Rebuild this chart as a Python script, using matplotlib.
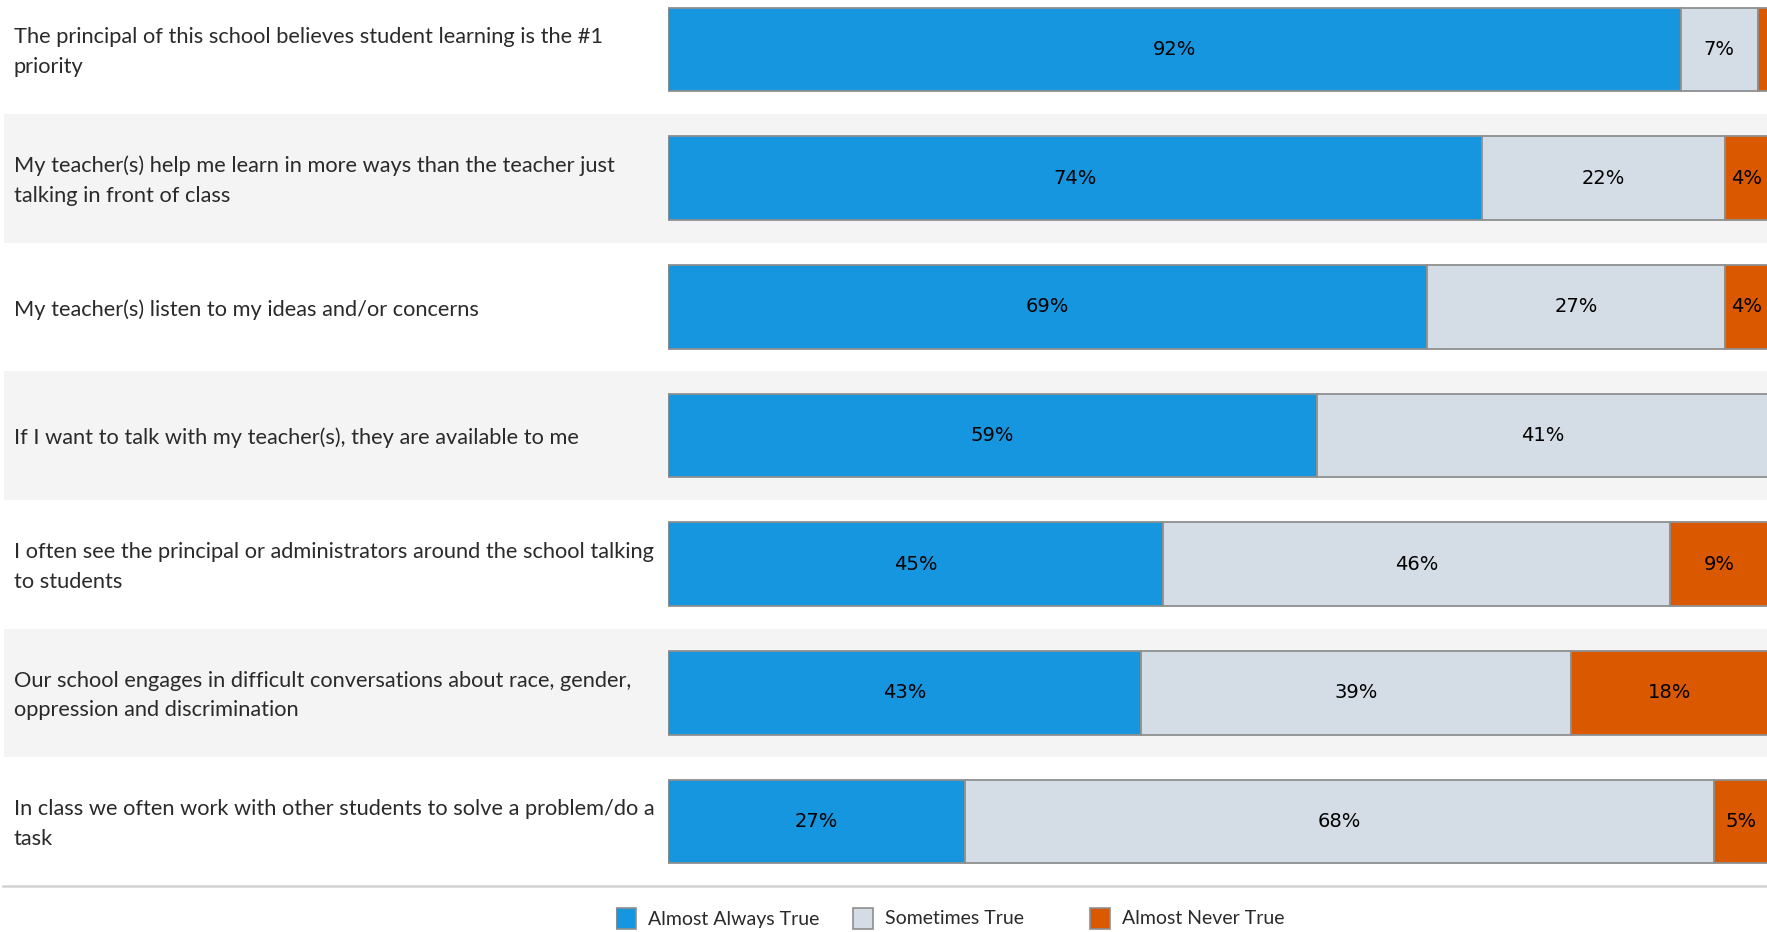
import numpy as np
import matplotlib
matplotlib.use("Agg")
import matplotlib.pyplot as plt
from matplotlib.patches import Rectangle
from matplotlib.transforms import blended_transform_factory

# survey statements, top to bottom
questions = [
    "The principal of this school believes student learning is the #1\npriority",
    "My teacher(s) help me learn in more ways than the teacher just\ntalking in front of class",
    "My teacher(s) listen to my ideas and/or concerns",
    "If I want to talk with my teacher(s), they are available to me",
    "I often see the principal or administrators around the school talking\nto students",
    "Our school engages in difficult conversations about race, gender,\noppression and discrimination",
    "In class we often work with other students to solve a problem/do a\ntask",
]
almost_always = [92, 74, 69, 59, 45, 43, 27]
sometimes = [7, 22, 27, 41, 46, 39, 68]
almost_never = [1, 4, 4, 0, 9, 18, 5]

series_names = ["Almost Always True", "Sometimes True", "Almost Never True"]
colors = ["#1796e0", "#d4dce6", "#d95800"]

W, H = 1767, 932
fig = plt.figure(figsize=(W / 100, H / 100), dpi=100)

row_px = 128.7
bottom_px = 886
ax = fig.add_axes([668 / W, (H - bottom_px) / H, 1099 / W, bottom_px / H])
ax.set_xlim(0, 99.85)
n = len(questions)
ax.set_ylim(n - 0.5, n - 0.5 - bottom_px / row_px)
ax.axis("off")

y = np.arange(n)
trans = blended_transform_factory(fig.transFigure, ax.transData)

# alternating row bands
for i in y:
    if i % 2 == 1:
        ax.add_patch(Rectangle((3.5 / W, i - 0.5), 1, 1, transform=trans,
                               facecolor="#f4f4f4", edgecolor="none",
                               clip_on=False, zorder=0))
    ax.text(13.5 / W, i + 0.02, questions[i], transform=trans, ha="left",
            va="center", fontsize=15.7, family="Lato", color="#2a2a2a",
            linespacing=1.6)

left = np.zeros(n)
for vals, col in zip([almost_always, sometimes, almost_never], colors):
    vals = np.array(vals, dtype=float)
    ax.barh(y, vals, left=left, height=0.65, color=col, edgecolor="#8f8f8f",
            linewidth=1.3, zorder=2)
    for i in y:
        if vals[i] >= 3:
            ax.text(left[i] + vals[i] / 2, i, f"{int(vals[i])}%", ha="center",
                    va="center", fontsize=14, color="black", zorder=3)
    left += vals

# separator line above legend
fig.add_artist(plt.Line2D([3 / W, 1], [(H - 886) / H] * 2, color="#d3d3d3",
                          linewidth=1.8, transform=fig.transFigure))

# legend in fixed-width columns
lax = fig.add_axes([616 / W, 0, 711 / W, 40 / H])
lax.set_xlim(0, 3)
lax.set_ylim(0, 40)
lax.axis("off")
for k, (name, col) in enumerate(zip(series_names, colors)):
    lax.add_patch(Rectangle((k, 3), 20 / 237, 21, facecolor=col,
                            edgecolor="#8f8f8f", linewidth=1.2))
    lax.text(k + 32 / 237, 13, name, ha="left", va="center", fontsize=14,
             family="Lato", color="#2a2a2a")

fig.savefig("out.png", dpi=100, facecolor="white")
